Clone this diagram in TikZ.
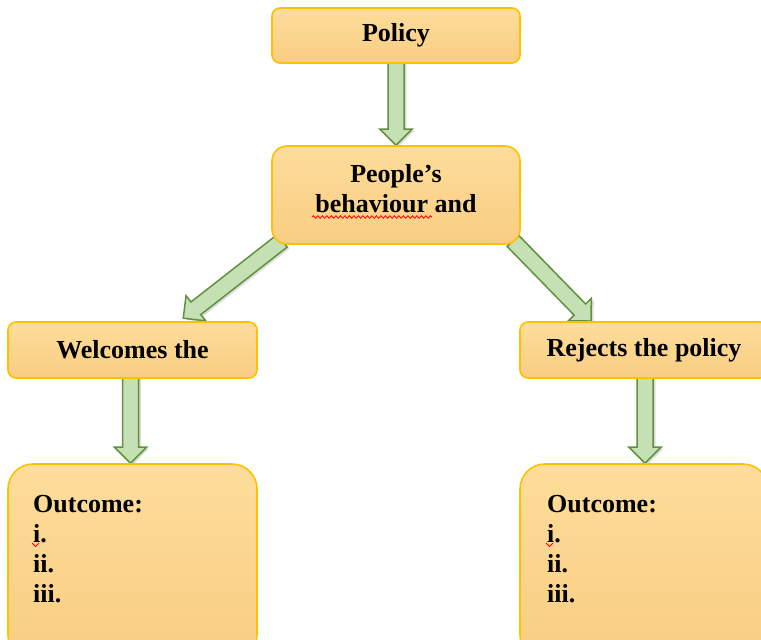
\documentclass[tikz,border=0pt]{standalone}
\usepackage{fontspec}
\setmainfont{Liberation Serif}
\usetikzlibrary{calc,backgrounds,decorations.pathmorphing,shadows}

\definecolor{boxedge}{RGB}{255,192,0}
\definecolor{boxtop}{RGB}{253,221,155}
\definecolor{boxbot}{RGB}{249,205,130}
\definecolor{arrfill}{RGB}{197,224,180}
\definecolor{arredge}{RGB}{98,145,62}

\tikzset{
  box/.style={draw=boxedge, line width=1.6pt, top color=boxtop, bottom color=boxbot,
              inner sep=0pt, font=\bfseries\fontsize{26}{30}\selectfont},
  boxtext/.style={inner sep=0pt, font=\bfseries\fontsize{26}{30}\selectfont},
  blockarrow/.style={draw=arredge, line width=1.5pt, fill=arrfill, line join=miter,
              drop shadow={shadow xshift=2.5pt, shadow yshift=-1.5pt, opacity=0.22, fill=black!60}},
  spell/.style={draw=red, line width=0.8pt, decorate,
              decoration={snake, amplitude=1.3pt, segment length=4.5pt}}
}

% block arrow from #1 to #2: shaft half width 8, head half width 16, head length 16
\newcommand\blockarrow[2]{%
  \draw[blockarrow] let \p1=(#1), \p2=(#2),
      \n1={atan2(\y2-\y1,\x2-\x1)}, \n2={veclen(\x2-\x1,\y2-\y1)} in
    [shift={(\p1)}, rotate=\n1]
    (0,-8) -- ({\n2-16},-8) -- ({\n2-16},-16) -- (\n2,0) -- ({\n2-16},16)
    -- ({\n2-16},8) -- (0,8) -- cycle;}

\begin{document}
\begin{tikzpicture}[x=1pt, y=-1pt]
  \useasboundingbox (0,0) rectangle (761,640);
  \clip (0,0) rectangle (761,640);

  % boxes
  \node[box, rounded corners=8pt, minimum width=248pt, minimum height=55pt]
    (pol) at (396,35.5) {Policy};
  \node[box, rounded corners=15pt, minimum width=248pt, minimum height=98pt]
    (pb) at (396,195) {};
  \node[box, rounded corners=8pt, minimum width=249pt, minimum height=56pt]
    (wel) at (132.5,350) {Welcomes the};
  \node[box, rounded corners=8pt, minimum width=248pt, minimum height=56pt]
    (rej) at (644,350) {Rejects the policy};
  \node[box, rounded corners=25pt, minimum width=249pt, minimum height=196pt]
    (outL) at (132.5,562) {};
  \node[box, rounded corners=25pt, minimum width=248pt, minimum height=196pt]
    (outR) at (644,562) {};

  % texts set at the top of the taller boxes
  \node[boxtext, align=center, anchor=north] (pbt) at (396,164) {People’s\\behaviour and};
  \node[boxtext, align=left, anchor=north west] (outLt) at (33,495) {Outcome:\\i.\\ii.\\iii.};
  \node[boxtext, align=left, anchor=north west] (outRt) at (547,495) {Outcome:\\i.\\ii.\\iii.};

  % spell-check squiggles
  \draw[spell] (312,217) -- (432,217);
  \draw[red, line width=0.8pt] ($(outLt.north west)+(-1,48)$) -- ++(3.5,3.5) -- ++(3.5,-3.5);
  \draw[red, line width=0.8pt] ($(outRt.north west)+(-1,48)$) -- ++(3.5,3.5) -- ++(3.5,-3.5);

  % connecting block arrows
  \begin{pgfonlayer}{background}
    \blockarrow{$(pol.south)+(0,-3)$}{pb.north}
    \blockarrow{$(pb.south west)+(11,-4)$}{$(wel.north west)+(176,-3)$}
    \blockarrow{$(pb.south east)+(-8,-4)$}{$(rej.north west)+(72,0)$}
    \blockarrow{$(wel.south)+(-2,-3)$}{$(outL.north)+(-2,0)$}
    \blockarrow{$(rej.south)+(1,-3)$}{$(outR.north)+(1,0)$}
  \end{pgfonlayer}
\end{tikzpicture}
\end{document}
